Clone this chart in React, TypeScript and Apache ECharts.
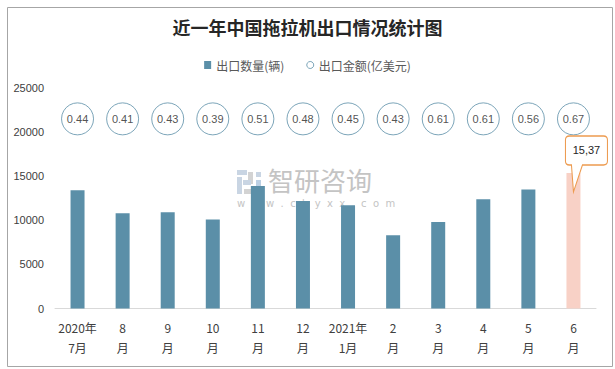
import React, { useEffect, useRef } from "react";
import * as echarts from "echarts";

const categories = [
  "2020年\n7月", "8\n月", "9\n月", "10\n月", "11\n月", "12\n月",
  "2021年\n1月", "2\n月", "3\n月", "4\n月", "5\n月", "6\n月",
];
const quantities = [13400, 10800, 10900, 10100, 13900, 12200, 11700, 8300, 9800, 12400, 13500, 15370];
const amounts = [0.44, 0.41, 0.43, 0.39, 0.51, 0.48, 0.45, 0.43, 0.61, 0.61, 0.56, 0.67];
const amountRow = 21500;
const calloutText = "15,37";
const yTicks = { min: 0, max: 25000, interval: 5000 };

const calloutPath =
  "path://M4,0 L38,0 Q42,0 42,4 L42,25 Q42,29 38,29 L17,29 L8,56 L6,29 L4,29 Q0,29 0,25 L0,4 Q0,0 4,0 Z";

export default function App() {
  const ref = useRef<HTMLDivElement>(null);
  useEffect(() => {
    if (!ref.current) return;
    const chart = echarts.init(ref.current, null, { renderer: "svg" });
    const last = quantities.length - 1;
    chart.setOption({
      animation: false,
      backgroundColor: "#ffffff",
      title: {
        text: "近一年中国拖拉机出口情况统计图",
        left: "center",
        top: 13,
        textStyle: {
          fontFamily: "Noto Sans CJK SC",
          fontSize: 18,
          fontWeight: "bold",
          color: "#262626",
        },
      },
      legend: {
        top: 54,
        left: "center",
        itemGap: 22,
        textStyle: { fontFamily: "Noto Sans CJK SC", fontSize: 12, color: "#595959" },
        data: [
          { name: "出口数量(辆)", icon: "rect", itemStyle: { color: "#5b8fa8" } },
          { name: "出口金额(亿美元)", icon: "circle", itemStyle: { color: "#ffffff", borderColor: "#5b8fa8", borderWidth: 1 } },
        ],
        itemWidth: 7,
        itemHeight: 8,
      },
      graphic: [
        {
          type: "rect",
          left: 5,
          top: 5,
          shape: { width: 605, height: 359 },
          style: { fill: "none", stroke: "#a6a6a6", lineWidth: 1 },
          silent: true,
        },
        {
          type: "group",
          left: 237,
          top: 166,
          silent: true,
          children: [
            { type: "rect", shape: { x: 0, y: 0, width: 10, height: 5 }, style: { fill: "#c9d5e3" } },
            { type: "rect", shape: { x: 0, y: 7, width: 5, height: 17 }, style: { fill: "#c9d5e3" } },
            { type: "rect", shape: { x: 11, y: 2, width: 5, height: 12 }, style: { fill: "#d3d3d3" } },
            { type: "rect", shape: { x: 6, y: 10, width: 8, height: 5 }, style: { fill: "#c9d5e3" } },
            { type: "rect", shape: { x: 19, y: 2, width: 5, height: 5 }, style: { fill: "#c9d5e3" } },
            { type: "rect", shape: { x: 19, y: 10, width: 5, height: 14 }, style: { fill: "#bcd0e4" } },
            { type: "rect", shape: { x: 7, y: 19, width: 10, height: 5 }, style: { fill: "#d3d3d3" } },
            {
              type: "text",
              x: 31,
              y: -4,
              style: {
                text: "智研咨询",
                fontFamily: "Noto Sans CJK SC",
                fontSize: 26,
                lineHeight: 26,
                fill: "#c4c4c4",
              },
            },
            {
              type: "text",
              x: 0,
              y: 28,
              style: {
                text: "w  w  w  .  c  h  y  x  x  .  c  o  m",
                fontFamily: "DejaVu Sans",
                fontSize: 10,
                lineHeight: 10,
                fill: "#c4c4c4",
              },
            },
          ],
        },
      ],
      grid: { left: 55, right: 19, top: 88, bottom: 60.5 },
      xAxis: {
        type: "category",
        data: categories,
        axisLine: { lineStyle: { color: "#d9d9d9" } },
        axisTick: { show: false },
        axisLabel: {
          fontFamily: "Noto Sans CJK SC",
          fontSize: 12,
          color: "#404040",
          lineHeight: 20,
          margin: 9,
          interval: 0,
        },
      },
      yAxis: {
        type: "value",
        min: yTicks.min,
        max: yTicks.max,
        interval: yTicks.interval,
        splitLine: { show: false },
        axisLine: { show: false },
        axisTick: { show: false },
        axisLabel: {
          fontFamily: "Liberation Sans",
          fontSize: 11,
          color: "#404040",
          margin: 11,
          formatter: (v: number) => String(v),
        },
      },
      series: [
        {
          name: "出口数量(辆)",
          type: "bar",
          barWidth: 14,
          data: quantities,
          itemStyle: {
            color: (p: any) => (p.dataIndex === last ? "#f8d1c6" : "#5b8fa8"),
          },
          markPoint: {
            silent: true,
            data: [
              {
                coord: [last, quantities[last]],
                symbol: calloutPath,
                symbolSize: [42, 56],
                symbolKeepAspect: false,
                symbolOffset: [13, -9],
                itemStyle: { color: "#ffffff", borderColor: "#ed9b4f", borderWidth: 1.2 },
                label: {
                  show: true,
                  position: "inside",
                  offset: [0, -13.5],
                  formatter: calloutText,
                  fontFamily: "Liberation Sans",
                  fontSize: 11,
                  fontWeight: "normal",
                  color: "#262626",
                  textBorderWidth: 0,
                  textBorderColor: "transparent",
                },
              },
            ],
          },
        },
        {
          name: "出口金额(亿美元)",
          type: "scatter",
          symbol: "circle",
          symbolSize: 32,
          data: amounts.map((a, i) => [i, amountRow, a]),
          itemStyle: { color: "#ffffff", borderColor: "#5b8fa8", borderWidth: 1 },
          label: {
            show: true,
            position: "inside",
            formatter: (p: any) => p.value[2].toFixed(2),
            fontFamily: "Liberation Sans",
            fontSize: 11,
            color: "#262626",
          },
          z: 3,
        },
      ],
    });
    return () => chart.dispose();
  }, []);
  return (
    <div
      ref={ref}
      style={{ position: "fixed", left: 0, top: 0, width: 615, height: 369 }}
    />
  );
}
